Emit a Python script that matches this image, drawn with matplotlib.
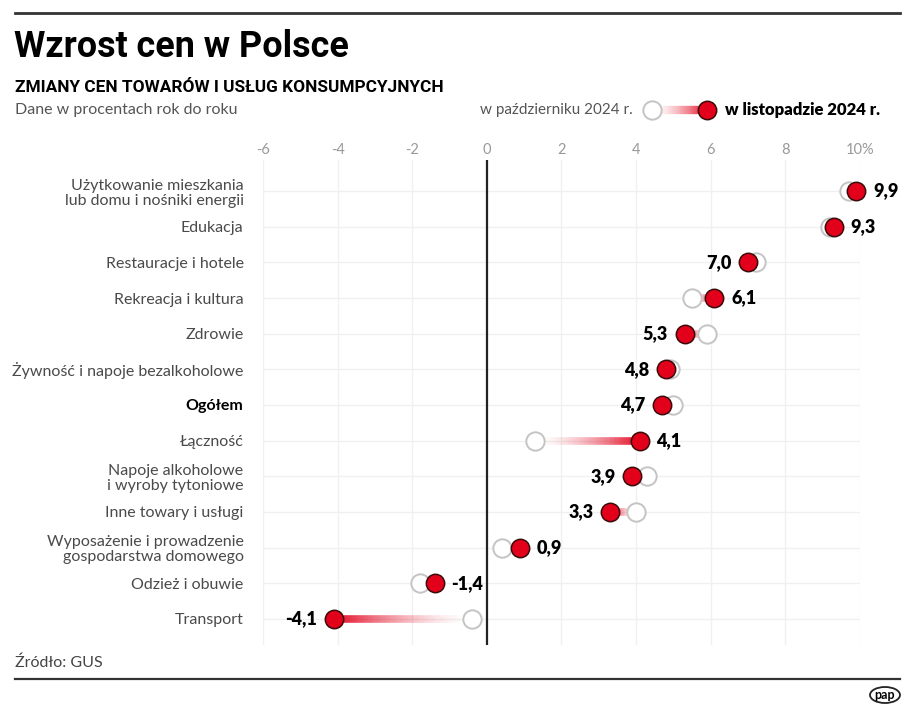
import numpy as np
import matplotlib as mpl
import matplotlib.pyplot as plt
from matplotlib.collections import LineCollection
from matplotlib.patches import Ellipse

plt.rcParams['font.family'] = ['Lato', 'DejaVu Sans']

categories = ['Użytkowanie mieszkania\nlub domu i nośniki energii', 'Edukacja',
              'Restauracje i hotele', 'Rekreacja i kultura', 'Zdrowie',
              'Żywność i napoje bezalkoholowe', 'Ogółem', 'Łączność',
              'Napoje alkoholowe\ni wyroby tytoniowe', 'Inne towary i usługi',
              'Wyposażenie i prowadzenie\ngospodarstwa domowego', 'Odzież i obuwie',
              'Transport']
october = [9.7, 9.2, 7.2, 5.5, 5.9, 4.9, 5.0, 1.3, 4.3, 4.0, 0.4, -1.8, -0.4]
november = [9.9, 9.3, 7.0, 6.1, 5.3, 4.8, 4.7, 4.1, 3.9, 3.3, 0.9, -1.4, -4.1]
xticks = [-6, -4, -2, 0, 2, 4, 6, 8, 10]
xtick_labels = ['-6', '-4', '-2', '0', '2', '4', '6', '8', '10%']

RED = '#e2001a'
W, H = 915, 714


def gradient_line(ax, x0, x1, y, lw, n=60):
    # white (October) end fades out, red (November) end is solid
    xs = np.linspace(x0, x1, n + 1)
    segs = [[(xs[i], y), (xs[i + 1], y)] for i in range(n)]
    t = np.linspace(0, 1, n)
    cols = [mpl.colors.to_rgba(RED, a) for a in t ** 1.6 * 0.95]
    ax.add_collection(LineCollection(segs, colors=cols, linewidths=lw,
                                     capstyle='butt', zorder=2))


fig = plt.figure(figsize=(W / 100, H / 100), dpi=100)

# main plot, placed in pixel coordinates
left, right, top, bottom = 263, 860, 160, 645
ax = fig.add_axes([left / W, 1 - bottom / H, (right - left) / W, (bottom - top) / H])
rows = np.arange(len(categories))
ax.set_xlim(-6, 10)
ax.set_ylim(12.73, -0.87)
for s in ax.spines.values():
    s.set_visible(False)
ax.set_xticks([])
ax.set_yticks(rows)
ax.set_yticklabels(categories, fontsize=11.5, color='#4a4a4a', linespacing=1.12)
ax.tick_params(axis='y', length=0, pad=14)
for lbl in ax.get_yticklabels():
    if lbl.get_text() == 'Ogółem':
        lbl.set_fontweight('bold')
        lbl.set_color('black')

for x in xticks:
    ax.axvline(x, color='#f0f0f0', lw=1, zorder=0)
for r in rows:
    ax.plot([-6, 10], [r, r], color='#f0f0f0', lw=1, zorder=0)
ax.axvline(0, color='#222222', lw=1.6, zorder=1)

for r, o, n in zip(rows, october, november):
    gradient_line(ax, o, n, r, 5.5)
ax.scatter(october, rows, s=175, facecolor='white', edgecolor='#c4c4c4',
           linewidth=1.4, zorder=3, clip_on=False)
ax.scatter(november, rows, s=175, facecolor=RED, edgecolor='#3a0b0b',
           linewidth=1.1, zorder=4, clip_on=False)
for r, o, n in zip(rows, october, november):
    lab = f'{n:.1f}'.replace('.', ',')
    if n >= o:
        ax.annotate(lab, (n, r), xytext=(12, 0), textcoords='offset points',
                    ha='left', va='center', fontsize=13, fontweight='heavy')
    else:
        ax.annotate(lab, (n, r), xytext=(-12, 0), textcoords='offset points',
                    ha='right', va='center', fontsize=13, fontweight='heavy')

# overlay in figure pixels for header, legend and footer
ov = fig.add_axes([0, 0, 1, 1], zorder=-1)
ov.set_xlim(0, W)
ov.set_ylim(H, 0)
ov.axis('off')

ov.plot([15, 900], [13, 13], color='#333333', lw=2)
ov.plot([15, 900], [679, 679], color='#333333', lw=1.6)
ov.text(14, 47, 'Wzrost cen w Polsce', fontsize=25.8, fontweight='bold',
        va='center', family=['Liberation Sans Narrow', 'Roboto'])
ov.text(15, 87, 'ZMIANY CEN TOWARÓW I USŁUG KONSUMPCYJNYCH', fontsize=12.4,
        fontweight='bold', va='center', family=['Liberation Sans Narrow', 'Roboto'])
ov.text(15, 110, 'Dane w procentach rok do roku', fontsize=11.5, color='#555555',
        va='center')
for x, lab in zip(xticks, xtick_labels):
    px = left + (x + 6) / 16 * (right - left)
    ov.text(px, 150, lab, fontsize=10.5, color='#999999', ha='center', va='center')

# legend
ov.text(633, 110, 'w październiku 2024 r.', fontsize=11, color='#555555',
        ha='right', va='center')
gradient_line(ov, 652, 707, 110, 6)
ov.scatter([652], [110], s=175, facecolor='white', edgecolor='#c4c4c4',
           linewidth=1.4, zorder=3)
ov.scatter([707], [110], s=175, facecolor=RED, edgecolor='#3a0b0b',
           linewidth=1.1, zorder=4)
ov.text(725, 110, 'w listopadzie 2024 r.', fontsize=12, fontweight='heavy',
        ha='left', va='center')

ov.text(15, 663, 'Źródło: GUS', fontsize=11.5, color='#444444', va='center')
ov.add_patch(Ellipse((885, 695), 30, 16, facecolor='white', edgecolor='#222222', lw=1.3))
ov.text(885, 695, 'pap', fontsize=9, fontweight='bold', ha='center', va='center')

fig.savefig('out.png', dpi=100)
